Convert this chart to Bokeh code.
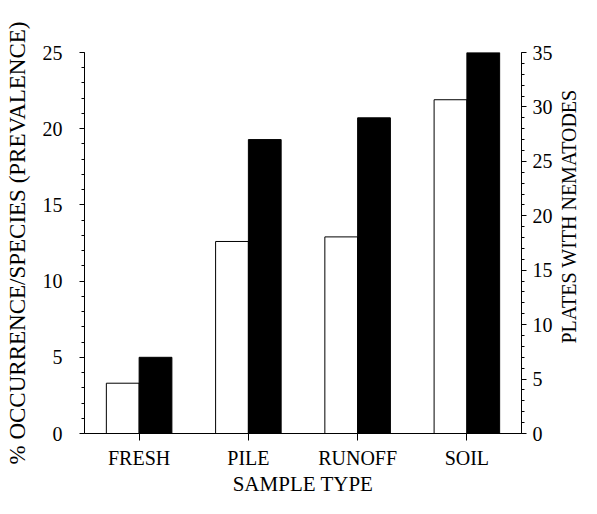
from bokeh.plotting import figure
from bokeh.layouts import row
from bokeh.models import (Range1d, LinearAxis, SingleIntervalTicker, FactorRange,
                          ColumnDataSource, Title)
from bokeh.transform import dodge
from bokeh.embed import file_html
from bokeh.resources import INLINE

# ---- data ----
sample_types = ["FRESH", "PILE", "RUNOFF", "SOIL"]
prevalence = [3.3, 12.6, 12.9, 21.9]      # % occurrence/species (left axis)
plates_with_nematodes = [7, 27, 29, 35]   # plates with nematodes (right axis)

FONT = "Liberation Serif"
W_LABEL = 26

p = figure(x_range=FactorRange(*sample_types), y_range=Range1d(0, 25),
           width=581 - W_LABEL, height=498, output_backend="svg", toolbar_location=None,
           min_border_left=84, min_border_right=0, min_border_top=52,
           min_border_bottom=0)
p.extra_y_ranges = {"plates": Range1d(0, 35)}
p.outline_line_color = None
p.xgrid.visible = False
p.ygrid.visible = False
p.background_fill_color = "white"
p.border_fill_color = "white"

src = ColumnDataSource(dict(cat=sample_types, prev=prevalence, plates=plates_with_nematodes))
p.vbar(x=dodge("cat", -0.15, range=p.x_range), top="prev", width=0.3, source=src,
       fill_color="white", line_color="black", line_width=1)
p.vbar(x=dodge("cat", 0.15, range=p.x_range), top="plates", width=0.3, source=src,
       fill_color="black", line_color="black", line_width=1, y_range_name="plates")

# left axis
ya = p.yaxis[0]
ya.ticker = SingleIntervalTicker(interval=5, num_minor_ticks=5)
ya.major_tick_in = 0
ya.major_tick_out = 5
ya.minor_tick_in = 0
ya.minor_tick_out = 3
ya.axis_line_color = "black"
ya.major_label_standoff = 17
ya.major_label_text_font = FONT
ya.major_label_text_font_size = "20px"
ya.major_label_text_color = "black"
ya.axis_label = "% OCCURRENCE/SPECIES (PREVALENCE)"
ya.axis_label_text_font = FONT
ya.axis_label_text_font_size = "23px"
ya.axis_label_text_font_style = "normal"
ya.axis_label_text_color = "black"
ya.axis_label_standoff = 10

# right axis
ra = LinearAxis(y_range_name="plates",
                ticker=SingleIntervalTicker(interval=5, num_minor_ticks=5))
ra.major_tick_in = 0
ra.major_tick_out = 5
ra.minor_tick_in = 0
ra.minor_tick_out = 3
ra.axis_line_color = "black"
ra.major_label_standoff = 6
ra.major_label_text_font = FONT
ra.major_label_text_font_size = "20px"
ra.major_label_text_color = "black"
p.add_layout(ra, "right")

# bottom axis
xa = p.xaxis[0]
xa.major_tick_in = 0
xa.major_tick_out = 7
xa.axis_line_color = "black"
xa.major_label_standoff = 6
xa.major_label_text_font = FONT
xa.major_label_text_font_size = "20px"
xa.major_label_text_color = "black"
xa.axis_label = "SAMPLE TYPE"
xa.axis_label_text_font = FONT
xa.axis_label_text_font_size = "21px"
xa.axis_label_text_font_style = "normal"
xa.axis_label_text_color = "black"
xa.axis_label_standoff = 0

# narrow strip carrying the right-hand axis title (reads bottom to top)
p2 = figure(width=W_LABEL, height=498, output_backend="svg", toolbar_location=None,
            x_axis_location=None, y_axis_location=None, min_border=0)
p2.outline_line_color = None
p2.grid.visible = False
p2.background_fill_color = "white"
p2.border_fill_color = "white"
p2.add_layout(Title(text="PLATES WITH NEMATODES", align="left", offset=90,
                    standoff=0, text_font=FONT, text_font_size="20px",
                    text_font_style="normal", text_color="black"), "left")

layout = row(p, p2, spacing=0)
open("out.html", "w").write(file_html(layout, INLINE))
